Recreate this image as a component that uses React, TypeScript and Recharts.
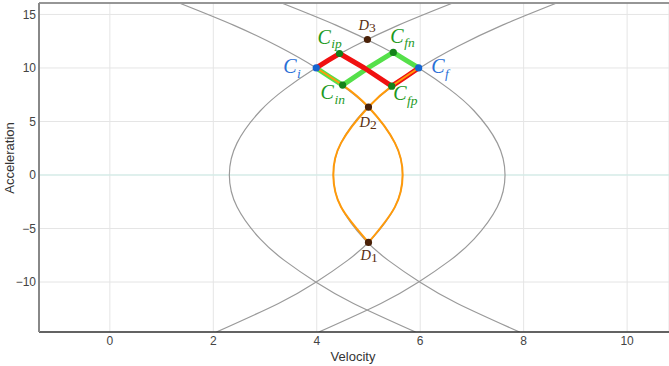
import { ComposedChart, Line, Scatter, XAxis, YAxis, CartesianGrid, ReferenceLine } from "recharts";

// gray parabola branches (velocity x, acceleration y)
const bigLeft = [
  { x: 6.63, y: 16.07 }, { x: 5.58, y: 14 }, { x: 4.71, y: 12 }, { x: 3.98, y: 10 }, { x: 3.38, y: 8 },
  { x: 2.91, y: 6 }, { x: 2.46, y: 3 }, { x: 2.31, y: 0 }, { x: 2.46, y: -3 }, { x: 2.91, y: -6 },
  { x: 3.38, y: -8 }, { x: 3.98, y: -10 }, { x: 4.71, y: -12 }, { x: 5.91, y: -14.67 },
];
const bigRight = [
  { x: 3.32, y: 16.07 }, { x: 4.37, y: 14 }, { x: 5.24, y: 12 }, { x: 5.97, y: 10 }, { x: 6.57, y: 8 },
  { x: 7.04, y: 6 }, { x: 7.49, y: 3 }, { x: 7.64, y: 0 }, { x: 7.49, y: -3 }, { x: 7.04, y: -6 },
  { x: 6.57, y: -8 }, { x: 5.97, y: -10 }, { x: 5.24, y: -12 }, { x: 4.04, y: -14.67 },
];
const lensRight = [
  { x: 1.34, y: 16.07 }, { x: 2.39, y: 14 }, { x: 3.26, y: 12 }, { x: 3.99, y: 10 }, { x: 4.59, y: 8 },
  { x: 5.06, y: 6 }, { x: 5.51, y: 3 }, { x: 5.66, y: 0 }, { x: 5.51, y: -3 }, { x: 5.06, y: -6 },
  { x: 4.59, y: -8 }, { x: 3.99, y: -10 }, { x: 3.26, y: -12 }, { x: 2.06, y: -14.67 },
];
const lensLeft = [
  { x: 8.64, y: 16.07 }, { x: 7.59, y: 14 }, { x: 6.72, y: 12 }, { x: 5.99, y: 10 }, { x: 5.39, y: 8 },
  { x: 4.92, y: 6 }, { x: 4.47, y: 3 }, { x: 4.32, y: 0 }, { x: 4.47, y: -3 }, { x: 4.92, y: -6 },
  { x: 5.39, y: -8 }, { x: 5.99, y: -10 }, { x: 6.72, y: -12 }, { x: 7.92, y: -14.67 },
];

// orange arcs from C_i / C_f down to D1
const orangeA = [
  { x: 3.99, y: 10 }, { x: 4.5, y: 8.4 }, { x: 5.0, y: 6.35 }, { x: 5.51, y: 3 },
  { x: 5.66, y: 0 }, { x: 5.51, y: -3 }, { x: 5.0, y: -6.3 },
];
const orangeB = [
  { x: 5.97, y: 10 }, { x: 5.45, y: 8.3 }, { x: 5.0, y: 6.35 }, { x: 4.47, y: 3 },
  { x: 4.32, y: 0 }, { x: 4.47, y: -3 }, { x: 5.0, y: -6.3 },
];

const greenPath = [
  { x: 3.99, y: 10 }, { x: 4.24, y: 9.2 }, { x: 4.5, y: 8.4 }, { x: 4.99, y: 10 },
  { x: 5.48, y: 11.45 }, { x: 5.73, y: 10.7 }, { x: 5.97, y: 10 },
];
const redPath = [
  { x: 3.99, y: 10 }, { x: 4.22, y: 10.7 }, { x: 4.44, y: 11.35 }, { x: 4.92, y: 10 },
  { x: 5.45, y: 8.3 }, { x: 5.73, y: 9.2 }, { x: 5.97, y: 10 },
];

const cPoints = [
  { name: "i", x: 3.99, y: 10 },
  { name: "f", x: 5.97, y: 10 },
  { name: "ip", x: 4.44, y: 11.35 },
  { name: "in", x: 4.5, y: 8.4 },
  { name: "fn", x: 5.48, y: 11.45 },
  { name: "fp", x: 5.45, y: 8.3 },
];
const dPoints = [
  { name: "1", x: 5.0, y: -6.3 },
  { name: "2", x: 5.0, y: 6.35 },
  { name: "3", x: 4.98, y: 12.66 },
];

const xTicks = [0, 2, 4, 6, 8, 10];
const yTicks = [-10, -5, 0, 5, 10, 15];

const X_MIN = -1.37, X_MAX = 10.81, Y_MIN = -14.67, Y_MAX = 16.07;

const cOffset: Record<string, [number, number]> = {
  i: [-33, 5.5], f: [12.5, 5.5], ip: [-22, -10], in: [-22, 14], fn: [-3, -9.5], fp: [1.5, 14],
};
const dOffset: Record<string, [number, number]> = { "1": [-8, 18], "2": [-9, 20], "3": [-9, -9] };

const mathFont = "'Liberation Serif', 'Times New Roman', serif";
const sansFont = "'Liberation Sans', Arial, sans-serif";

function CDot(props: any) {
  const { cx, cy, payload } = props;
  const end = payload.name === "i" || payload.name === "f";
  const dot = end ? "#1565d0" : "#14821a";
  const txt = end ? "#2a6fd6" : "#1e9a1e";
  const [dx, dy] = cOffset[payload.name];
  return (
    <g>
      <circle cx={cx} cy={cy} r={3.6} fill={dot} />
      <text x={cx + dx} y={cy + dy} fill={txt} fontFamily={mathFont} fontStyle="italic" fontSize={20}>
        C<tspan dx={0.5} dy={4.5} fontSize={13.5}>{payload.name}</tspan>
      </text>
    </g>
  );
}

function DDot(props: any) {
  const { cx, cy, payload } = props;
  const [dx, dy] = dOffset[payload.name];
  return (
    <g>
      <circle cx={cx} cy={cy} r={3.6} fill="#4a2108" />
      <text x={cx + dx} y={cy + dy} fill="#5a2e10" fontFamily={mathFont} fontStyle="italic" fontSize={14.5}>
        D<tspan dy={2} fontStyle="normal" fontSize={13.5}>{payload.name}</tspan>
      </text>
    </g>
  );
}

const minus = (v: number) => String(v).replace("-", "\u2212");

export default function App() {
  const gray = { stroke: "#9a9a9a", strokeWidth: 1.2, dot: false, activeDot: false, isAnimationActive: false, type: "natural" as const };
  return (
    <div style={{ position: "absolute", left: 0, top: 0, width: 669, height: 366, background: "#fff" }}>
      <ComposedChart width={669} height={366} margin={{ top: 3, right: 0, bottom: 0, left: 0 }}>
        <CartesianGrid stroke="#e5e5e5" strokeWidth={1} />
        <XAxis
          type="number" dataKey="x" domain={[X_MIN, X_MAX]} ticks={xTicks} allowDataOverflow
          height={34} tickLine={false} tickSize={0} tickMargin={4}
          axisLine={{ stroke: "#333", strokeWidth: 1.5 }}
          tick={{ fontSize: 12, fill: "#444", fontFamily: sansFont }}
        />
        <YAxis
          type="number" dataKey="y" domain={[Y_MIN, Y_MAX]} ticks={yTicks} allowDataOverflow
          width={39} tickLine={false} tickSize={0} tickMargin={3} tickFormatter={minus}
          axisLine={{ stroke: "#888", strokeWidth: 2 }}
          tick={{ fontSize: 12, fill: "#444", fontFamily: sansFont }}
        />
        <ReferenceLine y={0} stroke="#cdeee8" strokeWidth={1} />
        <ReferenceLine y={Y_MAX} stroke="#777" strokeWidth={1.5} />
        <Line data={bigLeft} dataKey="y" {...gray} />
        <Line data={bigRight} dataKey="y" {...gray} />
        <Line data={lensRight} dataKey="y" {...gray} />
        <Line data={lensLeft} dataKey="y" {...gray} />
        <Line data={greenPath} dataKey="y" type="linear" stroke="#55e04a" strokeWidth={5} strokeLinejoin="round" dot={false} activeDot={false} isAnimationActive={false} />
        <Line data={redPath} dataKey="y" type="linear" stroke="#f01010" strokeWidth={5} strokeLinejoin="round" dot={false} activeDot={false} isAnimationActive={false} />
        <Line data={orangeA} dataKey="y" type="natural" stroke="#ff9a0a" strokeWidth={2} dot={false} activeDot={false} isAnimationActive={false} />
        <Line data={orangeB} dataKey="y" type="natural" stroke="#ff9a0a" strokeWidth={2} dot={false} activeDot={false} isAnimationActive={false} />
        <Scatter data={dPoints} dataKey="y" shape={DDot} isAnimationActive={false} />
        <Scatter data={cPoints} dataKey="y" shape={CDot} isAnimationActive={false} />
      </ComposedChart>
      <div style={{ position: "absolute", left: 353, top: 356, transform: "translate(-50%, -50%)", fontFamily: sansFont, fontSize: 13, color: "#333", whiteSpace: "nowrap" }}>
        Velocity
      </div>
      <div style={{ position: "absolute", left: 9, top: 158, transform: "translate(-50%, -50%) rotate(-90deg)", fontFamily: sansFont, fontSize: 13, color: "#333", whiteSpace: "nowrap" }}>
        Acceleration
      </div>
    </div>
  );
}
